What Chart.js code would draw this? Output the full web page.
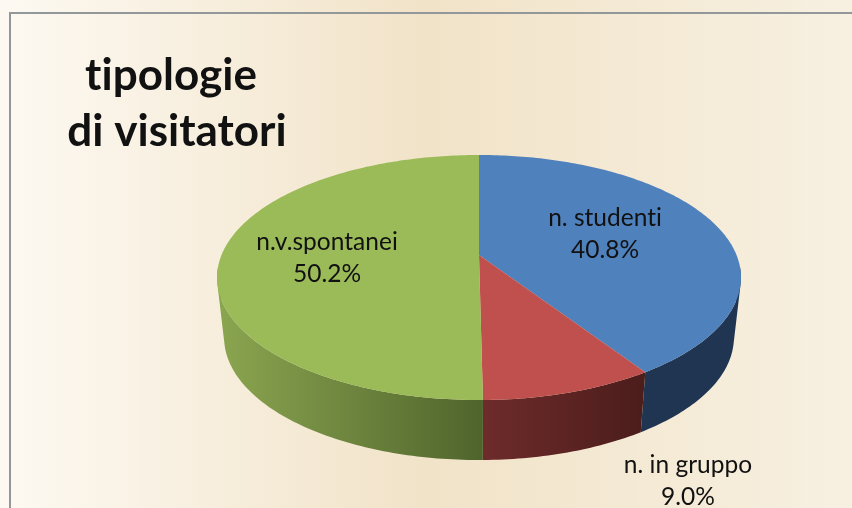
<!DOCTYPE html>
<html>
<head>
<meta charset="utf-8">
<style>
  html, body { margin: 0; padding: 0; background: #f7efdf; overflow: hidden; }
  canvas { display: block; }
</style>
<script src="https://cdn.jsdelivr.net/npm/chart.js@4"></script>
</head>
<body>
<canvas id="chart" width="852" height="508"></canvas>
<script>
const categories = ['n. studenti', 'n. in gruppo', 'n.v.spontanei'];
const shares = [40.8, 9.0, 50.2];
const titleLines = ['tipologie', 'di visitatori'];

const topColors = ['#4f81bd', '#c0504d', '#9bbb59'];
const wallColors = [['#1f3552', '#1f3552'], ['#6e2b2b', '#4b1d1b'], ['#8ba650', '#4f642c']];
const labelSpots = [[605, 218], [688, 465], [327, 242]];

// the pie lies on a tilted plane, so the wedges need a perspective map and not just a y scale
const pie = { cx: 479, cy: 255, rx: 257.5, a: 118.4, b: 0.1837, depth: 60, lowerScale: 0.973 };

function project(angle, lower) {
  const u = Math.cos(angle), v = Math.sin(angle);
  const d = 1 - pie.b * v;
  const sx = lower ? pie.lowerScale : 1;
  return [pie.cx + sx * pie.rx * u / d, pie.cy + (lower ? pie.depth : 0) + pie.a * v / d];
}

function arcPoints(start, end, lower) {
  const steps = Math.max(2, Math.ceil((end - start) * 60));
  const pts = [];
  for (let i = 0; i <= steps; i++) pts.push(project(start + (end - start) * i / steps, lower));
  return pts;
}

function tracePath(ctx, pts) {
  ctx.beginPath();
  pts.forEach((p, i) => i ? ctx.lineTo(p[0], p[1]) : ctx.moveTo(p[0], p[1]));
  ctx.closePath();
}

// all quads go in one path with the same winding, so there are no seams between them
function traceWall(ctx, start, end) {
  const upper = arcPoints(start, end, false);
  const lower = arcPoints(start, end, true);
  const n = upper.length - 1;
  ctx.beginPath();
  for (let k = 0; k < n; k++) {
    // back part of the wall is hidden by the top face anyway
    if (Math.sin(start + (end - start) * (k + 0.5) / n) < 0.1) continue;
    const quad = [upper[k], upper[k + 1], lower[k + 1], lower[k]];
    let area = 0;
    quad.forEach((p, j) => {
      const q = quad[(j + 1) % 4];
      area += p[0] * q[1] - q[0] * p[1];
    });
    if (area < 0) quad.reverse();
    quad.forEach((p, j) => j ? ctx.lineTo(p[0], p[1]) : ctx.moveTo(p[0], p[1]));
    ctx.closePath();
  }
}

const backdrop = {
  id: 'backdrop',
  beforeDraw(chart) {
    const { ctx, width, height } = chart;
    const g = ctx.createLinearGradient(0, 0, width, 0);
    g.addColorStop(0, '#fdf9f2');
    g.addColorStop(0.5, '#f1e3c8');
    g.addColorStop(1, '#f7f0e1');
    ctx.fillStyle = g;
    ctx.fillRect(0, 0, width, height);
    // frame only shows on top and left, the rest is cropped
    ctx.fillStyle = '#92979a';
    ctx.fillRect(9, 12, width - 9, 2);
    ctx.fillRect(9, 12, 2, height - 12);
  }
};

const tiltedPie = {
  id: 'tiltedPie',
  beforeDatasetDraw(chart) {
    const ctx = chart.ctx;
    const arcs = chart.getDatasetMeta(0).data;
    ctx.save();
    // walls first, the top faces cover whatever is behind
    arcs.forEach((arc, i) => {
      const xs = arcPoints(arc.startAngle, arc.endAngle, false).map(p => p[0]);
      const g = ctx.createLinearGradient(Math.min(...xs), 0, Math.max(...xs), 0);
      g.addColorStop(0, wallColors[i][0]);
      g.addColorStop(1, wallColors[i][1]);
      ctx.fillStyle = g;
      traceWall(ctx, arc.startAngle, arc.endAngle);
      ctx.fill();
    });
    arcs.forEach(arc => {
      const pts = arcPoints(arc.startAngle, arc.endAngle, false);
      pts.push([pie.cx, pie.cy]);
      ctx.fillStyle = arc.options.backgroundColor;
      tracePath(ctx, pts);
      ctx.fill();
    });
    ctx.restore();
    return false;
  },
  afterDraw(chart) {
    const ctx = chart.ctx;
    ctx.save();
    ctx.textAlign = 'center';
    ctx.textBaseline = 'middle';
    ctx.fillStyle = '#111';
    ctx.letterSpacing = '0.01px'; // stops the Lato "ti" ligature
    ctx.font = '24.5px Lato, "Open Sans", sans-serif';
    categories.forEach((name, i) => {
      const [x, y] = labelSpots[i];
      ctx.fillText(name, x, y);
      ctx.fillText(shares[i].toFixed(1) + '%', x, y + 32);
    });
    ctx.font = 'bold 44px Lato, "Open Sans", sans-serif';
    ctx.fillText(titleLines[0], 171, 76);
    ctx.fillText(titleLines[1], 177, 132);
    ctx.restore();
  }
};

new Chart(document.getElementById('chart'), {
  type: 'pie',
  data: {
    labels: categories,
    datasets: [{ data: shares, backgroundColor: topColors, borderWidth: 0 }]
  },
  options: {
    responsive: false,
    animation: false,
    plugins: { legend: { display: false }, tooltip: { enabled: false } }
  },
  plugins: [backdrop, tiltedPie]
});
</script>
</body>
</html>
